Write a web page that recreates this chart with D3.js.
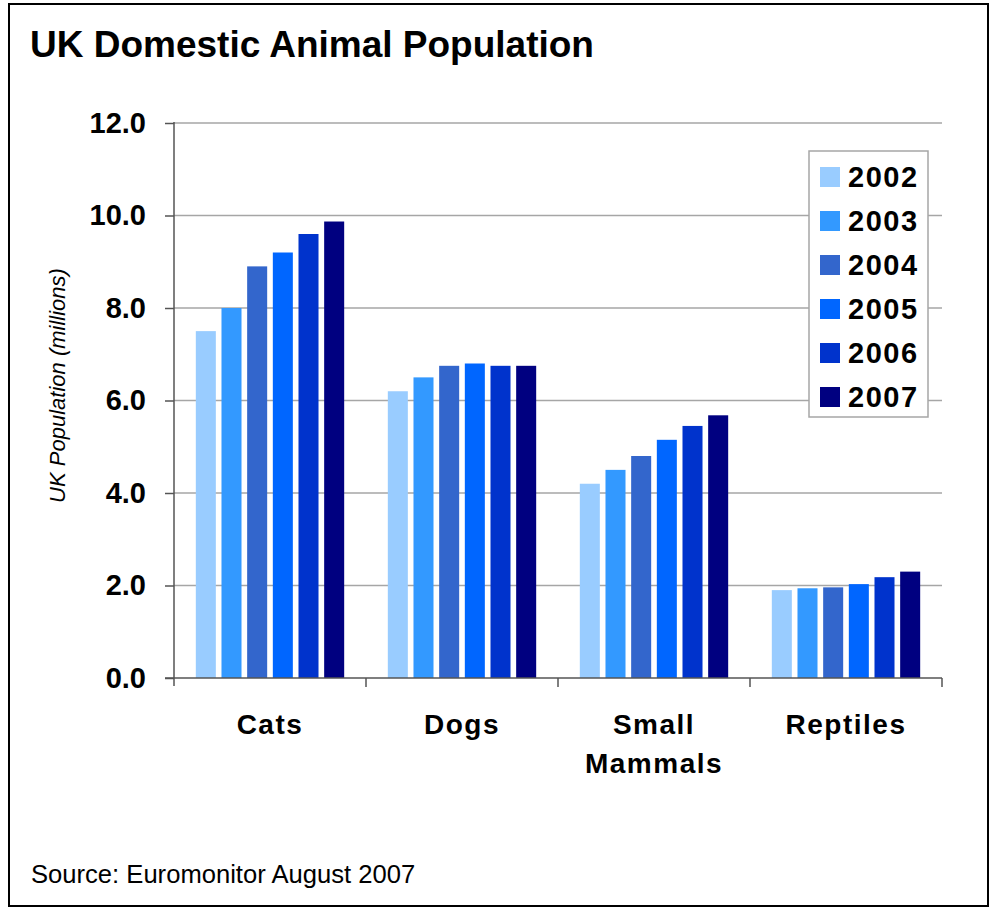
<!DOCTYPE html>
<html>
<head>
<meta charset="utf-8">
<script src="https://cdn.jsdelivr.net/npm/d3@7"></script>
<style>
  body { margin: 0; background: #fff; }
  text { font-family: "Liberation Sans", Arial, sans-serif; }
</style>
</head>
<body>
<script>
// chart data
const categories = ["Cats", "Dogs", "Small Mammals", "Reptiles"];
const years = ["2002", "2003", "2004", "2005", "2006", "2007"];
const v2002 = [7.5, 6.2, 4.2, 1.9];
const v2003 = [8.0, 6.5, 4.5, 1.94];
const v2004 = [8.9, 6.75, 4.8, 1.96];
const v2005 = [9.2, 6.8, 5.15, 2.03];
const v2006 = [9.6, 6.75, 5.45, 2.18];
const v2007 = [9.87, 6.75, 5.68, 2.3];
const yTicks = [0, 2, 4, 6, 8, 10, 12];
const colors = ["#99ccff", "#3399ff", "#3366cc", "#0066ff", "#0033cc", "#000080"];

const series = [v2002, v2003, v2004, v2005, v2006, v2007];

const W = 990, H = 909;
const plotL = 174, plotR = 942, plotT = 123, plotB = 678;

let svg = d3.select("body").append("svg")
    .attr("width", W)
    .attr("height", H);

// outer frame
svg.append("rect")
    .attr("x", 9).attr("y", 4)
    .attr("width", 979).attr("height", 902)
    .attr("fill", "#fff")
    .attr("stroke", "#000")
    .attr("stroke-width", 2);

svg.append("text")
    .attr("x", 30).attr("y", 57)
    .attr("font-size", 37)
    .attr("font-weight", "bold")
    .text("UK Domestic Animal Population");

let x = d3.scaleBand().domain(categories).range([plotL, plotR]);
let xi = d3.scaleBand().domain(years).range([0, x.bandwidth()])
    .paddingInner(0.22).paddingOuter(0.85);
let y = d3.scaleLinear().domain([0, 12]).range([plotB, plotT]);

// gridlines
svg.append("g").selectAll("line")
    .data(yTicks.filter(d => d > 0))
    .enter().append("line")
    .attr("x1", plotL).attr("x2", plotR)
    .attr("y1", d => y(d)).attr("y2", d => y(d))
    .attr("stroke", "#a6a6a6")
    .attr("stroke-width", 1.5);

// bars
let groups = svg.append("g").selectAll("g")
    .data(series)
    .enter().append("g")
    .attr("fill", (d, i) => colors[i]);

groups.selectAll("rect")
    .data((d, i) => d.map((v, j) => ({ cat: categories[j], year: years[i], v: v })))
    .enter().append("rect")
    .attr("x", d => x(d.cat) + xi(d.year))
    .attr("width", xi.bandwidth())
    .attr("y", d => y(d.v))
    .attr("height", d => y(0) - y(d.v));

// y axis
let yAxis = svg.append("g")
    .attr("transform", "translate(" + plotL + ",0)")
    .call(d3.axisLeft(y).tickValues(yTicks).tickFormat(d3.format(".1f"))
        .tickSize(9).tickPadding(19).tickSizeOuter(0));
yAxis.select(".domain").attr("stroke", "#555").attr("stroke-width", 1.5)
    .attr("d", "M0," + (plotT - 1) + "V" + (plotB + 8));
yAxis.selectAll(".tick line").attr("stroke", "#555").attr("stroke-width", 1.5);
yAxis.selectAll(".tick text")
    .attr("font-size", 29)
    .attr("font-weight", "bold")
    .attr("font-family", "'Liberation Sans', Arial, sans-serif")
    .attr("fill", "#000");

// x axis line and boundary ticks
svg.append("line")
    .attr("x1", plotL - 9).attr("x2", plotR)
    .attr("y1", plotB).attr("y2", plotB)
    .attr("stroke", "#555").attr("stroke-width", 1.5);

let bounds = categories.map(c => x(c)).concat([x(categories[categories.length - 1]) + x.step()]);
svg.append("g").selectAll("line")
    .data(bounds.slice(1))
    .enter().append("line")
    .attr("x1", d => d).attr("x2", d => d)
    .attr("y1", plotB).attr("y2", plotB + 9)
    .attr("stroke", "#555").attr("stroke-width", 1.5);

// category labels
let xl = svg.append("g").selectAll("text")
    .data(categories)
    .enter().append("text")
    .attr("x", d => x(d) + x.bandwidth() / 2)
    .attr("y", 734)
    .attr("text-anchor", "middle")
    .attr("font-size", 28)
    .attr("font-weight", "bold")
    .attr("letter-spacing", 1.5);
xl.selectAll("tspan")
    .data(d => d.split(" "))
    .enter().append("tspan")
    .attr("x", function () { return d3.select(this.parentNode).attr("x"); })
    .attr("dy", (d, i) => i === 0 ? 0 : 39)
    .text(d => d);

// y title
svg.append("text")
    .attr("transform", "translate(65," + ((plotT + plotB) / 2 - 15) + ") rotate(-90)")
    .attr("text-anchor", "middle")
    .attr("font-size", 22)
    .attr("font-style", "italic")
    .text("UK Population (millions)");

// legend
let legend = svg.append("g");
legend.append("rect")
    .attr("x", 809).attr("y", 151)
    .attr("width", 119).attr("height", 266)
    .attr("fill", "#fff")
    .attr("stroke", "#a6a6a6")
    .attr("stroke-width", 1.5);

let items = legend.selectAll("g.item")
    .data(years)
    .enter().append("g")
    .attr("class", "item")
    .attr("transform", (d, i) => "translate(820," + (177 + i * 44) + ")");
items.append("rect")
    .attr("x", 0).attr("y", -10)
    .attr("width", 20).attr("height", 20)
    .attr("fill", (d, i) => colors[i]);
items.append("text")
    .attr("x", 28).attr("y", 10)
    .attr("font-size", 29)
    .attr("font-weight", "bold")
    .attr("letter-spacing", 1.5)
    .text(d => d);

svg.append("text")
    .attr("x", 31).attr("y", 883)
    .attr("font-size", 25.6)
    .text("Source: Euromonitor August 2007");
</script>
</body>
</html>
